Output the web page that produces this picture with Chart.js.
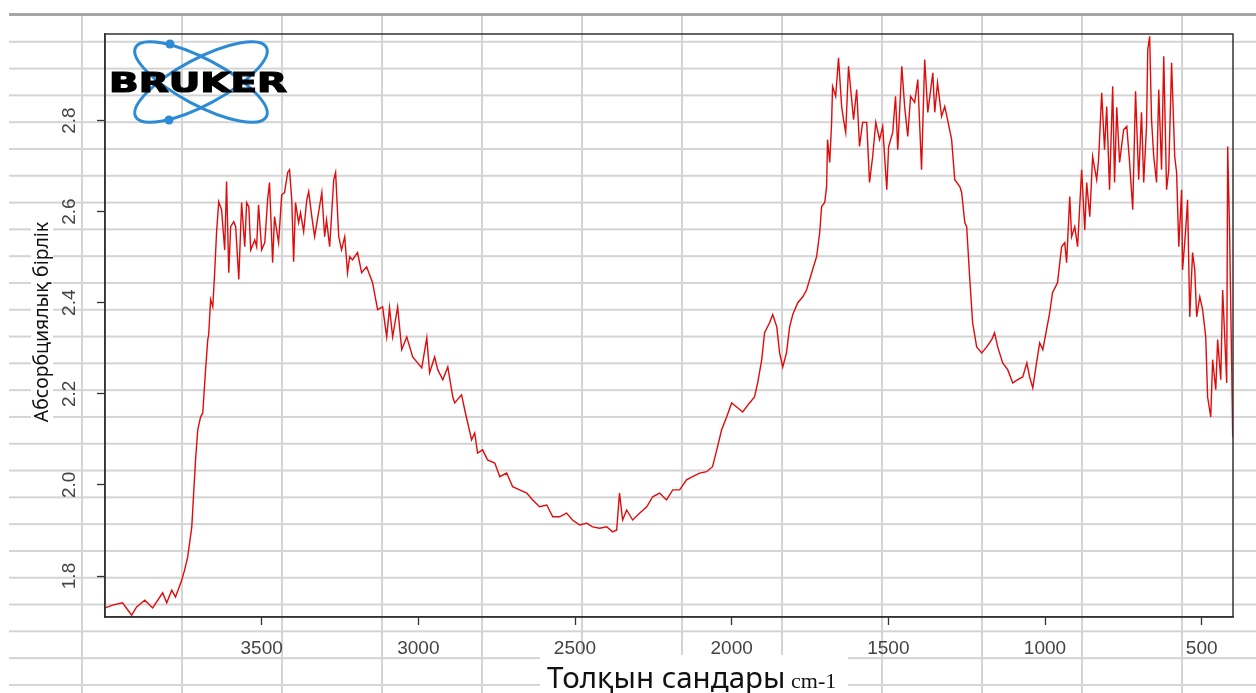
<!DOCTYPE html>
<html>
<head>
<meta charset="utf-8">
<title>ИҚ спектр</title>
<script src="https://cdn.jsdelivr.net/npm/chart.js@4.4.1/dist/chart.umd.min.js"></script>
<style>
  html, body { margin: 0; padding: 0; background: #fff; }
  .sheet { position: relative; width: 1256px; height: 693px; overflow: hidden; background: #fff; }
  /* spreadsheet cells behind the plot */
  .cells {
    position: absolute; left: 9px; top: 13.5px; right: 0; bottom: 0;
    background-image:
      linear-gradient(to bottom, #d4d4d4 2px, transparent 2px),
      linear-gradient(to right, #d4d4d4 2px, transparent 2px);
    background-size: 100% 26.8px, 100px 100%;
    background-position: 0 0, 72px 0;
  }
  .topline { position: absolute; left: 9px; right: 0; top: 12.5px; height: 3px; background: #a6a6a6; }
  canvas { position: absolute; left: 0; top: 0; }
</style>
</head>
<body>
<div class="sheet">
  <div class="cells"></div>
  <div class="topline"></div>
  <canvas id="spectrum" width="1256" height="693"></canvas>
</div>
<script>
// толқын саны (cm-1) және абсорбция, суреттен оқылған
const wavenumber = [
  4000, 3976, 3944, 3915, 3899, 3873, 3848, 3816, 3803, 3787, 3775, 3755, 3746, 3736,
  3723, 3717, 3711, 3704, 3695, 3688, 3679, 3672, 3669, 3663, 3656, 3650,
  3644, 3637, 3628, 3618, 3612, 3605, 3599, 3589, 3583, 3573, 3564, 3554, 3548, 3541,
  3535, 3522, 3516, 3510, 3500, 3490, 3481, 3475, 3465, 3459, 3446, 3436, 3427, 3417,
  3411, 3404, 3398, 3392, 3382, 3376, 3366, 3356, 3350, 3340, 3331, 3321, 3308, 3299,
  3293, 3283, 3270, 3264, 3254, 3245, 3235, 3226, 3219, 3210, 3194, 3181,
  3165, 3146, 3130, 3114, 3101, 3092, 3082, 3066, 3053, 3037, 3018, 2989, 2973, 2964,
  2948, 2938, 2922, 2906, 2890, 2884, 2862, 2852, 2830, 2820, 2811, 2795, 2779, 2756,
  2740, 2718, 2699, 2677, 2654, 2635, 2613, 2590, 2571, 2549, 2527, 2508, 2485, 2463,
  2444, 2421, 2399, 2380, 2367, 2358, 2348, 2335, 2316, 2294, 2271, 2252, 2230, 2208,
  2188, 2166, 2144, 2125, 2102, 2080, 2061, 2045, 2032, 2016, 2000, 1984, 1965, 1943,
  1927, 1917, 1904, 1895, 1879, 1869, 1856, 1847, 1837, 1825, 1815, 1805, 1789, 1773,
  1761, 1742, 1729, 1719, 1713, 1703, 1697, 1694, 1687, 1681, 1678, 1668, 1659, 1649,
  1643, 1636, 1627, 1617, 1611, 1601, 1592, 1582, 1569, 1560, 1550, 1540, 1528, 1518,
  1505, 1499, 1486, 1477, 1470, 1457, 1448, 1438, 1429, 1416, 1406, 1394, 1384, 1374,
  1358, 1352, 1343, 1330, 1320, 1311, 1298, 1288, 1272, 1266, 1256, 1250, 1240, 1231,
  1218, 1202, 1186, 1170, 1161, 1151, 1135, 1119, 1103, 1087, 1071, 1058, 1049, 1039,
  1027, 1017, 1007, 995, 985, 976, 960, 947, 937, 931, 921, 915, 905, 896,
  883, 873, 867, 857, 848, 835, 829, 819, 810, 803, 794, 784, 778, 771,
  762, 749, 739, 730, 720, 711, 701, 692, 685, 676, 672, 666, 660, 653,
  644, 637, 628, 621, 612, 605, 596, 586, 580, 573, 564, 561, 551, 545,
  538, 529, 522, 516, 506, 497, 487, 481, 471, 465, 455, 449, 439, 433,
  420, 417, 411, 404, 401
];
const absorbance = [
  1.730, 1.736, 1.741, 1.714, 1.732, 1.747, 1.730, 1.763, 1.741, 1.769, 1.754, 1.791, 1.813, 1.842,
  1.908, 1.982, 2.055, 2.121, 2.149, 2.158, 2.253, 2.319, 2.330, 2.407, 2.391, 2.466,
  2.554, 2.622, 2.604, 2.516, 2.666, 2.466, 2.567, 2.578, 2.567, 2.451, 2.620, 2.523, 2.620, 2.611,
  2.516, 2.538, 2.523, 2.615, 2.516, 2.532, 2.626, 2.664, 2.488, 2.589, 2.532, 2.637, 2.642, 2.686,
  2.692, 2.626, 2.490, 2.620, 2.576, 2.598, 2.556, 2.626, 2.644, 2.589, 2.545, 2.587, 2.642, 2.545,
  2.582, 2.523, 2.670, 2.686, 2.545, 2.516, 2.545, 2.466, 2.501, 2.494, 2.510, 2.466,
  2.479, 2.444, 2.385, 2.391, 2.325, 2.389, 2.325, 2.391, 2.297, 2.325, 2.281, 2.257, 2.323, 2.246,
  2.281, 2.253, 2.231, 2.259, 2.193, 2.180, 2.198, 2.165, 2.099, 2.114, 2.070, 2.077, 2.055, 2.048,
  2.018, 2.026, 1.996, 1.989, 1.982, 1.967, 1.952, 1.956, 1.930, 1.930, 1.938, 1.923, 1.912, 1.916,
  1.908, 1.905, 1.908, 1.897, 1.901, 1.982, 1.923, 1.945, 1.923, 1.938, 1.952, 1.974, 1.982, 1.967,
  1.989, 1.989, 2.011, 2.018, 2.026, 2.029, 2.040, 2.084, 2.121, 2.149, 2.180, 2.171, 2.160, 2.180,
  2.193, 2.224, 2.275, 2.334, 2.356, 2.374, 2.347, 2.290, 2.259, 2.290, 2.347, 2.374, 2.400, 2.413,
  2.428, 2.472, 2.501, 2.554, 2.611, 2.620, 2.655, 2.758, 2.708, 2.796, 2.875, 2.853, 2.938, 2.831,
  2.802, 2.774, 2.919, 2.846, 2.802, 2.868, 2.743, 2.796, 2.796, 2.664, 2.721, 2.796, 2.758, 2.787,
  2.648, 2.743, 2.774, 2.853, 2.736, 2.919, 2.831, 2.765, 2.853, 2.840, 2.890, 2.692, 2.934, 2.818,
  2.905, 2.818, 2.883, 2.809, 2.831, 2.802, 2.758, 2.670, 2.655, 2.642, 2.576, 2.567, 2.451, 2.356,
  2.303, 2.290, 2.303, 2.319, 2.334, 2.303, 2.268, 2.253, 2.224, 2.231, 2.237, 2.268, 2.237, 2.213,
  2.268, 2.312, 2.297, 2.341, 2.378, 2.422, 2.444, 2.523, 2.532, 2.488, 2.633, 2.545, 2.567, 2.523,
  2.692, 2.560, 2.664, 2.589, 2.721, 2.670, 2.714, 2.861, 2.736, 2.831, 2.648, 2.875, 2.664, 2.829,
  2.708, 2.780, 2.787, 2.708, 2.604, 2.864, 2.670, 2.818, 2.664, 2.787, 2.956, 2.985, 2.802, 2.721,
  2.664, 2.868, 2.692, 2.941, 2.648, 2.692, 2.927, 2.721, 2.686, 2.523, 2.648, 2.472, 2.560, 2.626,
  2.369, 2.510, 2.472, 2.369, 2.413, 2.385, 2.325, 2.193, 2.149, 2.275, 2.209, 2.319, 2.231, 2.428,
  2.224, 2.743, 2.560, 2.253, 2.106
];
const xTicks = [3500, 3000, 2500, 2000, 1500, 1000, 500];
const yTicks = [1.8, 2.0, 2.2, 2.4, 2.6, 2.8];
const xTitle = "Толқын сандары";
const xUnit = "cm-1";
const yTitle = "Абсорбциялық бірлік";
const logoText = "BRUKER";

const points = wavenumber.map((w, i) => ({ x: w, y: absorbance[i] }));
const tickFont = '19px "Liberation Sans", Arial, sans-serif';

// рамка, y белгілері, ось атаулары, логотип
const decor = {
  id: "decor",
  afterDraw(chart) {
    const { ctx, chartArea: a, scales } = chart;
    ctx.save();

    ctx.strokeStyle = "#333";
    ctx.lineWidth = 1.5;
    ctx.strokeRect(a.left, a.top, a.right - a.left, a.bottom - a.top);

    ctx.fillStyle = "#444";
    ctx.font = tickFont;
    ctx.textAlign = "center";
    ctx.textBaseline = "middle";
    yTicks.forEach(v => {
      const py = scales.y.getPixelForValue(v);
      ctx.save();
      ctx.translate(70, py);
      ctx.rotate(-Math.PI / 2);
      ctx.fillText(v.toFixed(1), 0, 0);
      ctx.restore();
    });

    // y title on a white patch
    ctx.fillStyle = "#fff";
    ctx.fillRect(31, 214, 22, 216);
    ctx.font = '18px "Noto Sans", "Open Sans", sans-serif';
    let w = ctx.measureText(yTitle).width;
    ctx.font = (18 * 200 / w).toFixed(1) + 'px "Noto Sans", "Open Sans", sans-serif';
    ctx.fillStyle = "#111";
    ctx.save();
    ctx.translate(42, 322);
    ctx.rotate(-Math.PI / 2);
    ctx.fillText(yTitle, 0, 0);
    ctx.restore();

    // x title
    ctx.fillStyle = "#fff";
    ctx.fillRect(540, 655, 308, 40);
    ctx.fillStyle = "#111";
    ctx.textAlign = "left";
    ctx.textBaseline = "alphabetic";
    ctx.font = '30px "Noto Sans", "Open Sans", sans-serif';
    w = ctx.measureText(xTitle).width;
    ctx.font = (30 * 238 / w).toFixed(1) + 'px "Noto Sans", "Open Sans", sans-serif';
    ctx.fillText(xTitle, 547, 688);
    ctx.font = '22px "Liberation Serif", "DejaVu Serif", serif';
    ctx.fillText(xUnit, 791, 688);

    // logo
    ctx.strokeStyle = "#2d8bd6";
    ctx.fillStyle = "#2d8bd6";
    ctx.lineWidth = 3;
    [28, -28].forEach(deg => {
      ctx.beginPath();
      ctx.ellipse(201, 82, 74, 23, deg * Math.PI / 180, 0, Math.PI * 2);
      ctx.stroke();
    });
    [[170, 44], [169, 120]].forEach(([cx, cy]) => {
      ctx.beginPath();
      ctx.arc(cx, cy, 4.5, 0, Math.PI * 2);
      ctx.fill();
    });
    ctx.fillStyle = "#000";
    ctx.strokeStyle = "#000";
    ctx.lineWidth = 1.2;
    ctx.font = 'bold 27px "DejaVu Sans", sans-serif';
    w = ctx.measureText(logoText).width;
    ctx.save();
    ctx.translate(109, 92);
    ctx.scale(178 / w, 1);
    ctx.fillText(logoText, 0, 0);
    ctx.strokeText(logoText, 0, 0);
    ctx.restore();

    ctx.restore();
  }
};

new Chart(document.getElementById("spectrum"), {
  type: "line",
  data: {
    datasets: [{
      data: points,
      borderColor: "#e00b0b",
      borderWidth: 1.4,
      pointRadius: 0,
      tension: 0,
      fill: false
    }]
  },
  options: {
    responsive: false,
    devicePixelRatio: 1,
    animation: false,
    layout: { padding: { top: 34, right: 23, left: 0, bottom: 0 } },
    plugins: { legend: { display: false }, tooltip: { enabled: false } },
    scales: {
      x: {
        type: "linear",
        reverse: true,
        min: 400,
        max: 4000,
        afterBuildTicks: s => { s.ticks = xTicks.map(v => ({ value: v })); },
        afterFit: s => { s.height = 76; },
        ticks: {
          color: "#444",
          font: { family: '"Liberation Sans", Arial, sans-serif', size: 19 },
          padding: 12,
          maxRotation: 0,
          autoSkip: false,
          callback: v => String(v)
        },
        grid: { drawOnChartArea: false, drawTicks: true, tickLength: 8, tickColor: "#333", tickWidth: 1.3 },
        border: { color: "#333", width: 1.5 }
      },
      y: {
        type: "linear",
        min: 1.71,
        max: 2.99,
        afterBuildTicks: s => { s.ticks = yTicks.map(v => ({ value: v })); },
        afterFit: s => { s.width = 105; },
        ticks: { display: false },
        grid: { drawOnChartArea: false, drawTicks: true, tickLength: 8, tickColor: "#333", tickWidth: 1.3 },
        border: { color: "#333", width: 1.5 }
      }
    }
  },
  plugins: [decor]
});
</script>
</body>
</html>
